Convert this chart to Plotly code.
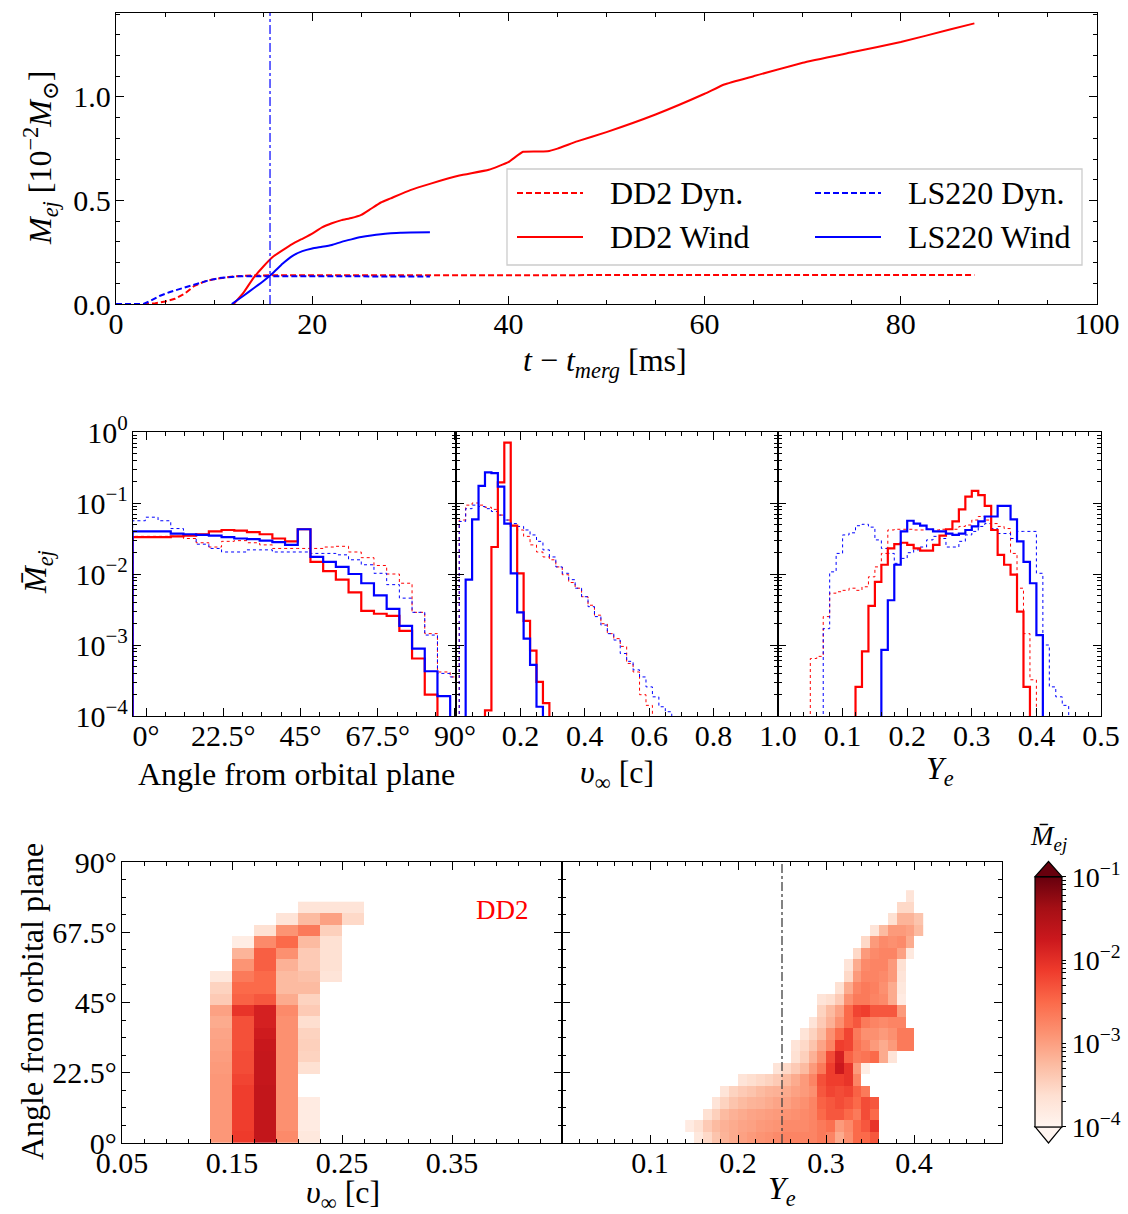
import numpy as np
import plotly.graph_objects as go

W, H = 1128, 1214
FONT = "Liberation Serif, Times New Roman, DejaVu Serif, serif"
RED = "#ff0000"
BLUE = "#0000ff"

# ---------------- top panel: ejecta mass vs time ----------------
DD2_DYN_T = [0, 3.0, 4.0, 5.0, 6.0, 7.0, 8.0, 9.0, 10.0, 11.0, 12.0, 13.0, 14.0, 20.0, 40.0, 87.5]
DD2_DYN_M = [0, 0, 0.004, 0.012, 0.025, 0.05, 0.088, 0.108, 0.12, 0.128, 0.133, 0.136, 0.138, 0.139, 0.139, 0.14]
LS220_DYN_T = [0, 2.8, 3.5, 4.5, 5.5, 6.5, 7.5, 8.5, 9.5, 10.5, 11.5, 12.5, 14.0, 32.0]
LS220_DYN_M = [0, 0, 0.015, 0.04, 0.058, 0.072, 0.088, 0.103, 0.115, 0.125, 0.131, 0.134, 0.134, 0.133]
DD2_WIND_T = [12.0, 13, 14, 15, 16, 17, 18, 19, 20, 21, 22, 23, 24, 25, 26, 27, 28,
              30, 32, 35, 38, 40, 41.5, 44, 45, 47, 50, 55, 60, 62, 65, 70, 75, 80, 85, 87.5]
DD2_WIND_M = [0.0, 0.055, 0.125, 0.18, 0.228, 0.26, 0.29, 0.315, 0.34, 0.37, 0.39, 0.405, 0.415, 0.43, 0.46, 0.49, 0.51,
              0.55, 0.58, 0.62, 0.648, 0.685, 0.735, 0.737, 0.75, 0.785, 0.83, 0.915, 1.015, 1.06, 1.10, 1.165, 1.215, 1.265, 1.325, 1.355]
LS220_WIND_T = [11.8, 13, 14, 15, 16, 17, 18, 19, 20, 21, 22, 23, 24, 25, 26, 27, 28, 29, 30, 32]
LS220_WIND_M = [0.0, 0.04, 0.075, 0.11, 0.15, 0.195, 0.232, 0.255, 0.268, 0.276, 0.285, 0.30, 0.312, 0.323, 0.331, 0.337, 0.341, 0.344, 0.345, 0.346]
MARK_T = 15.7

# ---------------- middle panels: normalised histograms (log10 of M_ej fraction) ----------------
ANGLE_HIST_EDGES = np.round(-3.9 + 3.7 * np.arange(27), 3)      # degrees
ANG_DD2_WIND = [-1.48, -1.48, -1.48, -1.47, -1.46, -1.44, -1.40, -1.38, -1.39, -1.41, -1.44, -1.50, -1.54,
                -1.37, -1.83, -1.96, -2.08, -2.26, -2.52, -2.56, -2.59, -2.80, -3.19, -3.70]
ANG_LS220_WIND = [-1.40, -1.40, -1.40, -1.43, -1.44, -1.45, -1.46, -1.48, -1.50, -1.51, -1.53, -1.55, -1.59,
                  -1.37, -1.76, -1.83, -1.90, -2.00, -2.13, -2.30, -2.49, -2.73, -3.05, -3.37, -3.72]
ANG_DD2_DYN = [-1.47, -1.47, -1.47, -1.47, -1.50, -1.56, -1.62, -1.54, -1.53, -1.56, -1.59, -1.64, -1.64,
               -1.64, -1.64, -1.62, -1.61, -1.69, -1.77, -1.88, -2.00, -2.13, -2.54, -2.84, -3.38, -3.45]
ANG_LS220_DYN = [-1.25, -1.20, -1.25, -1.36, -1.46, -1.58, -1.64, -1.69, -1.69, -1.66, -1.66, -1.69, -1.69,
                 -1.69, -1.71, -1.71, -1.73, -1.80, -1.87, -1.99, -2.15, -2.34, -2.54, -2.86, -3.40, -3.45]

V_HIST_EDGES = np.round(0.01 + 0.02 * np.arange(51), 3)
V_DD2_WIND_START, V_DD2_WIND = 4, [-3.92, -1.62, -0.71, -0.15, -1.32, -1.99, -2.66, -3.08, -3.52, -3.82]
V_LS220_WIND_START, V_LS220_WIND = 1, [-2.08, -1.23, -0.76, -0.57, -0.58, -0.77, -1.29, -1.99, -2.54, -2.91, -3.28, -3.87]
V_DD2_DYN = [-1.24, -1.03, -1.00, -1.03, -1.06, -1.09, -1.17, -1.24, -1.32, -1.38, -1.47, -1.59, -1.69, -1.76, -1.80,
             -1.90, -2.01, -2.12, -2.20, -2.32, -2.44, -2.58, -2.70, -2.84, -2.91, -3.02, -3.26, -3.38, -3.70, -3.85]
V_LS220_DYN = [-1.26, -1.08, -1.03, -1.05, -1.08, -1.12, -1.17, -1.24, -1.29, -1.33, -1.38, -1.45, -1.54, -1.66, -1.76,
               -1.90, -1.99, -2.08, -2.20, -2.32, -2.46, -2.60, -2.72, -2.84, -2.93, -3.12, -3.23, -3.35, -3.45, -3.59,
               -3.73, -3.87, -3.94]

YE_HIST_EDGES = np.round(0.01 * np.arange(51), 3)
YE_DD2_WIND_START, YE_DD2_WIND = 12, [-3.59, -3.09, -2.45, -2.11, -1.87, -1.64, -1.58, -1.56, -1.59, -1.64, -1.67, -1.67,
                                      -1.59, -1.46, -1.37, -1.26, -1.09, -0.91, -0.83, -0.89, -1.04, -1.38, -1.73, -1.87,
                                      -2.01, -2.53, -3.59]
YE_LS220_WIND_START, YE_LS220_WIND = 16, [-3.07, -2.37, -1.87, -1.40, -1.25, -1.29, -1.32, -1.37, -1.40, -1.40, -1.43,
                                          -1.45, -1.43, -1.38, -1.33, -1.26, -1.19, -1.19, -1.04, -1.04, -1.23, -1.54,
                                          -1.83, -2.13, -2.86]
YE_DD2_DYN_START, YE_DD2_DYN = 5, [-3.19, -3.16, -2.60, -2.27, -2.25, -2.23, -2.20, -2.23, -2.18, -2.04, -1.90, -1.71,
                                   -1.38, -1.37, -1.37, -1.37, -1.38, -1.38, -1.37, -1.38, -1.37, -1.37, -1.37, -1.33,
                                   -1.31, -1.24, -1.19, -1.24, -1.29, -1.33, -1.36, -1.71, -2.20, -2.84, -3.49]
YE_LS220_DYN_START, YE_LS220_DYN = 7, [-2.77, -1.97, -1.71, -1.45, -1.42, -1.32, -1.30, -1.34, -1.52, -1.64, -1.71, -1.85,
                                       -1.78, -1.70, -1.66, -1.62, -1.52, -1.47, -1.50, -1.62, -1.62, -1.54, -1.45, -1.40,
                                       -1.33, -1.29, -1.36, -1.43, -1.43, -1.50, -1.40, -1.40, -1.40, -1.99, -3.00, -3.59,
                                       -3.73, -3.85]

# ---------------- bottom panels: 2D histograms, DD2 (log10 M_ej) ----------------
N = np.nan
ANGLE_ROW_EDGES = np.round(3.68 * np.arange(23), 3)           # degrees
VINF_COL_EDGES = [0.13, 0.15, 0.17, 0.19, 0.21, 0.23, 0.25, 0.27]
VINF_ANGLE_LOGM = [
    [-2.92, -2.11, -1.66, -2.80, -3.76, N, N],
    [-2.92, -2.14, -1.66, -2.86, -3.82, N, N],
    [-2.92, -2.14, -1.66, -2.86, -3.82, N, N],
    [-2.92, -2.14, -1.66, -2.86, -3.82, N, N],
    [-2.92, -2.14, -1.66, -2.86, N, N, N],
    [-2.92, -2.20, -1.69, -2.86, N, N, N],
    [-2.95, -2.26, -1.69, -2.86, -3.64, N, N],
    [-2.98, -2.26, -1.69, -2.86, -3.49, N, N],
    [-3.01, -2.29, -1.72, -2.86, -3.46, N, N],
    [-3.04, -2.29, -1.78, -2.86, -3.49, N, N],
    [-3.10, -2.29, -1.84, -2.86, -3.61, N, N],
    [-3.01, -2.05, -1.84, -2.80, -3.40, N, N],
    [-3.40, -2.44, -2.35, -3.10, -3.49, N, N],
    [-3.49, -2.50, -2.50, -3.25, -3.25, N, N],
    [-3.76, -2.65, -2.50, -3.25, -3.31, -3.70, N],
    [N, -2.89, -2.41, -3.16, -3.40, -3.64, N],
    [N, -3.19, -2.41, -2.86, -3.40, -3.64, N],
    [N, -3.85, -2.80, -2.50, -3.25, -3.64, N],
    [N, N, -3.64, -2.89, -2.65, -3.46, N],
    [N, N, N, -3.70, -3.25, -3.01, -3.55],
    [N, N, N, N, -3.70, -3.70, -3.70],
]
YE_COL_EDGES = np.round(0.14 + 0.01 * np.arange(28), 3)
YE_ROW_START = [1, 0, 2, 3, 4, 6, 10, 12, 12, 13, 14, 15, 15, 17, 18, 18, 19, 20, 21, 23, 24, 25]
YE_ROW_LOGM = [
    [-3.76, -3.55, -3.34, -3.19, -3.10, -3.01, -2.95, -2.89, -2.86, -2.80, -2.74, -2.74, -2.74, -2.74, -2.65, -2.74, -3.10, -2.86, -2.50, -2.50, -2.35],
    [-3.82, -3.64, -3.40, -3.25, -3.16, -3.10, -3.04, -3.01, -2.95, -2.92, -2.89, -2.80, -2.80, -2.80, -2.74, -2.65, -2.56, -2.95, -2.80, -2.50, -2.35, -2.05],
    [-3.64, -3.46, -3.25, -3.16, -3.10, -3.04, -3.01, -2.98, -2.95, -2.89, -2.86, -2.80, -2.74, -2.50, -2.35, -2.35, -2.50, -2.65, -2.26, -2.50],
    [-3.70, -3.49, -3.34, -3.25, -3.19, -3.16, -3.10, -3.04, -3.01, -2.92, -2.86, -2.74, -2.44, -2.35, -2.26, -2.35, -2.50, -2.26, -2.35],
    [-3.70, -3.49, -3.40, -3.34, -3.25, -3.19, -3.16, -3.10, -3.01, -2.95, -2.86, -2.35, -2.20, -2.26, -2.20, -2.44, -2.65],
    [-3.70, -3.61, -3.55, -3.49, -3.40, -3.25, -3.10, -2.95, -2.74, -2.29, -2.14, -2.14, -2.05, -2.74],
    [-3.70, -3.55, -3.40, -3.25, -2.95, -2.65, -2.14, -1.75, -2.05, -2.95, -3.85],
    [-3.64, -3.46, -3.16, -2.86, -2.26, -1.84, -2.44, -2.65, -2.59, -2.50, -3.10, -3.70],
    [-3.70, -3.55, -3.34, -3.04, -2.74, -2.14, -2.20, -2.59, -2.74, -2.95, -3.10, -2.95, -2.65, -2.65],
    [-3.70, -3.49, -3.25, -2.86, -2.50, -2.20, -2.65, -2.86, -2.86, -2.95, -2.86, -2.65, -2.65],
    [-3.70, -3.40, -3.16, -2.86, -2.50, -2.35, -2.65, -2.74, -2.80, -2.74, -2.74],
    [-3.49, -3.25, -3.01, -2.50, -2.20, -2.14, -2.35, -2.35, -2.35, -2.95],
    [-3.70, -3.61, -3.40, -2.86, -2.65, -2.65, -2.74, -2.80, -3.10, -3.82],
    [-3.64, -3.10, -2.74, -2.65, -2.71, -2.86, -3.10, -3.76],
    [-3.55, -2.95, -2.74, -2.74, -2.80, -2.95, -3.70],
    [-3.70, -3.10, -2.80, -2.74, -2.74, -2.95, -3.64],
    [-3.55, -2.95, -2.80, -2.74, -2.74, -3.01, -3.79],
    [-3.55, -2.95, -2.80, -2.86, -2.80, -3.10],
    [-3.70, -3.25, -2.95, -2.95, -3.01, -3.25],
    [-3.64, -3.19, -3.19, -3.34],
    [-3.55, -3.55],
    [-3.70],
]
YE_MARK = 0.25

REDS = [[0.0, "#fff5f0"], [0.125, "#fee0d2"], [0.25, "#fcbba1"], [0.375, "#fc9272"], [0.5, "#fb6a4a"],
        [0.625, "#ef3b2c"], [0.75, "#cb181d"], [0.875, "#a50f15"], [1.0, "#67000d"]]

FLOOR = 1e-6


def px(x):
    return x / W


def py(y):
    return 1 - y / H


def step_trace(edges, start, logvals, xa, ya, color, width, dash):
    n = len(logvals)
    e = list(edges[start:start + n + 1])
    vals = [10 ** v for v in logvals]
    xs = [e[0]] + e[:n] + [e[n], e[n]]
    ys = [FLOOR] + vals + [vals[-1], FLOOR]
    return go.Scatter(x=xs, y=ys, mode="lines", line=dict(color=color, width=width, dash=dash, shape="hv"),
                      xaxis=xa, yaxis=ya, showlegend=False, hoverinfo="skip")


fig = go.Figure()

# top panel lines
DASH = "6px,3px"
fig.add_trace(go.Scatter(x=DD2_DYN_T, y=DD2_DYN_M, mode="lines", line=dict(color=RED, width=2, dash=DASH),
                         xaxis="x", yaxis="y", showlegend=False))
fig.add_trace(go.Scatter(x=LS220_DYN_T, y=LS220_DYN_M, mode="lines", line=dict(color=BLUE, width=2, dash=DASH),
                         xaxis="x", yaxis="y", showlegend=False))
fig.add_trace(go.Scatter(x=DD2_WIND_T, y=DD2_WIND_M, mode="lines", line=dict(color=RED, width=2, shape="spline",
                                                                            smoothing=0.35),
                         xaxis="x", yaxis="y", showlegend=False))
fig.add_trace(go.Scatter(x=LS220_WIND_T, y=LS220_WIND_M, mode="lines", line=dict(color=BLUE, width=2, shape="spline",
                                                                                smoothing=0.5),
                         xaxis="x", yaxis="y", showlegend=False))

# middle panel histograms
for xa, ya, edges, series in [
    ("x2", "y2", ANGLE_HIST_EDGES, [(0, ANG_DD2_DYN, RED, "dyn"), (0, ANG_LS220_DYN, BLUE, "dyn"),
                                    (0, ANG_DD2_WIND, RED, "wind"), (0, ANG_LS220_WIND, BLUE, "wind")]),
    ("x3", "y3", V_HIST_EDGES, [(0, V_DD2_DYN, RED, "dyn"), (0, V_LS220_DYN, BLUE, "dyn"),
                                (V_DD2_WIND_START, V_DD2_WIND, RED, "wind"),
                                (V_LS220_WIND_START, V_LS220_WIND, BLUE, "wind")]),
    ("x4", "y4", YE_HIST_EDGES, [(YE_DD2_DYN_START, YE_DD2_DYN, RED, "dyn"),
                                 (YE_LS220_DYN_START, YE_LS220_DYN, BLUE, "dyn"),
                                 (YE_DD2_WIND_START, YE_DD2_WIND, RED, "wind"),
                                 (YE_LS220_WIND_START, YE_LS220_WIND, BLUE, "wind")]),
]:
    for start, vals, col, kind in series:
        if kind == "dyn":
            fig.add_trace(step_trace(edges, start, vals, xa, ya, col, 1.0, "dot"))
        else:
            fig.add_trace(step_trace(edges, start, vals, xa, ya, col, 2.2, "solid"))

# bottom heatmaps
n_rows_l = len(VINF_ANGLE_LOGM)
fig.add_trace(go.Heatmap(x=VINF_COL_EDGES, y=list(ANGLE_ROW_EDGES[:n_rows_l + 1]), z=VINF_ANGLE_LOGM,
                         coloraxis="coloraxis", xaxis="x5", yaxis="y5", hoverongaps=False))
n_cols_r = len(YE_COL_EDGES) - 1
z_r = np.full((len(YE_ROW_LOGM), n_cols_r), np.nan)
for r, (s, vals) in enumerate(zip(YE_ROW_START, YE_ROW_LOGM)):
    z_r[r, s:s + len(vals)] = vals
fig.add_trace(go.Heatmap(x=list(YE_COL_EDGES), y=list(ANGLE_ROW_EDGES[:len(YE_ROW_LOGM) + 1]), z=z_r,
                         coloraxis="coloraxis", xaxis="x6", yaxis="y6", hoverongaps=False))

TICKFONT = dict(family=FONT, size=30, color="black")


def axis(domain, anchor, rng, tickvals=None, ticktext=None, minor=None, labels=True, typ="linear", standoff=-7):
    d = dict(domain=domain, anchor=anchor, range=rng, type=typ, showline=True, linecolor="black", linewidth=1.3,
             mirror="allticks", ticks="inside", ticklen=8, tickwidth=1.2, tickcolor="black", showgrid=False,
             zeroline=False, tickfont=TICKFONT, showticklabels=labels, ticklabelstandoff=standoff, automargin=False)
    if tickvals is not None:
        d["tickmode"] = "array"
        d["tickvals"] = tickvals
        d["ticktext"] = ticktext if ticktext is not None else [str(v) for v in tickvals]
    if minor is not None:
        m = dict(ticks="inside", ticklen=4, tickwidth=1, tickcolor="black", showgrid=False)
        m.update(minor)
        d["minor"] = m
    return d


DEG = ["0°", "22.5°", "45°", "67.5°", "90°"]
DEGV = [0, 22.5, 45, 67.5, 90]
LOGV = [1, 0.1, 0.01, 0.001, 0.0001]
LOGT = ["10<sup>0</sup>", "10<sup>−1</sup>", "10<sup>−2</sup>", "10<sup>−3</sup>", "10<sup>−4</sup>"]
LOGMINOR = [k * 10.0 ** d for d in range(-4, 0) for k in range(2, 10)]

mid_y = [py(716), py(432)]
bot_y = [py(1143), py(862)]
YS = -2
fig.update_layout(
    xaxis=axis([px(116), px(1097)], "y", [0, 100], [0, 20, 40, 60, 80, 100],
               minor=dict(tickmode="linear", tick0=0, dtick=5)),
    yaxis=axis([py(304), py(13)], "x", [0, 1.405], [0, 0.5, 1.0], ["0.0", "0.5", "1.0"],
               minor=dict(tickmode="linear", tick0=0, dtick=0.1), standoff=YS),
    xaxis2=axis([px(133), px(456)], "y2", [-3.8, 90.3], DEGV, DEG,
                minor=dict(tickmode="linear", tick0=0, dtick=5.625)),
    yaxis2=axis(mid_y, "x2", [-4, 0], LOGV, LOGT, minor=dict(tickmode="array", tickvals=LOGMINOR), typ="log",
                standoff=YS),
    xaxis3=axis([px(456), px(778)], "y3", [0, 1], [0.2, 0.4, 0.6, 0.8, 1.0], ["0.2", "0.4", "0.6", "0.8", "1.0"],
                minor=dict(tickmode="linear", tick0=0, dtick=0.05)),
    yaxis3=axis(mid_y, "x3", [-4, 0], LOGV, LOGT, minor=dict(tickmode="array", tickvals=LOGMINOR), labels=False,
                typ="log"),
    xaxis4=axis([px(778), px(1101)], "y4", [0, 0.5], [0.1, 0.2, 0.3, 0.4, 0.5], ["0.1", "0.2", "0.3", "0.4", "0.5"],
                minor=dict(tickmode="linear", tick0=0, dtick=0.02)),
    yaxis4=axis(mid_y, "x4", [-4, 0], LOGV, LOGT, minor=dict(tickmode="array", tickvals=LOGMINOR), labels=False,
                typ="log"),
    xaxis5=axis([px(122), px(562)], "y5", [0.05, 0.45], [0.05, 0.15, 0.25, 0.35], ["0.05", "0.15", "0.25", "0.35"],
                minor=dict(tickmode="linear", tick0=0.05, dtick=0.02)),
    yaxis5=axis(bot_y, "x5", [0, 90], DEGV, DEG, minor=dict(tickmode="linear", tick0=0, dtick=5.625), standoff=YS),
    xaxis6=axis([px(562), px(1002)], "y6", [0, 0.5], [0.1, 0.2, 0.3, 0.4], ["0.1", "0.2", "0.3", "0.4"],
                minor=dict(tickmode="linear", tick0=0, dtick=0.02)),
    yaxis6=axis(bot_y, "x6", [0, 90], DEGV, DEG, minor=dict(tickmode="linear", tick0=0, dtick=5.625), labels=False),
)

CB_MAJOR = [-4, -3, -2, -1]
CB_MINOR = [float(np.log10(k * 10.0 ** d)) for d in range(-4, -1) for k in range(2, 10)]
fig.update_layout(
    coloraxis=dict(colorscale=REDS, cmin=-4, cmax=-1,
                   colorbar=dict(x=px(1035), xanchor="left", y=py(1001.7), yanchor="middle", len=250,
                                 lenmode="pixels", thickness=27, thicknessmode="pixels", xpad=0, ypad=0,
                                 outlinewidth=1.2, outlinecolor="black",
                                 tickmode="array", tickvals=CB_MAJOR + CB_MINOR,
                                 ticktext=["10<sup>−4</sup>", "10<sup>−3</sup>", "10<sup>−2</sup>", "10<sup>−1</sup>"]
                                 + [""] * len(CB_MINOR),
                                 ticks="outside", ticklen=4, tickwidth=1, tickcolor="black",
                                 tickfont=dict(family=FONT, size=28, color="black"))),
)

shapes = []
# vertical marker lines
shapes.append(dict(type="line", xref="x", yref="y domain", x0=MARK_T, x1=MARK_T, y0=0, y1=1,
                   line=dict(color=BLUE, width=1.2, dash="dashdot")))
shapes.append(dict(type="line", xref="x6", yref="y6 domain", x0=YE_MARK, x1=YE_MARK, y0=0, y1=1,
                   line=dict(color="#404040", width=1.3, dash="dashdot")))
# colorbar extension triangles
shapes.append(dict(type="path", xref="paper", yref="paper",
                   path=f"M {px(1035)},{py(876.7)} L {px(1048.5)},{py(861.5)} L {px(1062)},{py(876.7)} Z",
                   fillcolor="#67000d", line=dict(color="black", width=1.2)))
shapes.append(dict(type="path", xref="paper", yref="paper",
                   path=f"M {px(1035)},{py(1126.7)} L {px(1048.5)},{py(1143)} L {px(1062)},{py(1126.7)} Z",
                   fillcolor="#fff5f0", line=dict(color="black", width=1.2)))
# legend box and keys
shapes.append(dict(type="rect", xref="paper", yref="paper", x0=px(507), x1=px(1082), y0=py(265), y1=py(169),
                   fillcolor="rgba(255,255,255,0.8)", line=dict(color="#cccccc", width=1.3), layer="above"))
LEG = [("DD2 Dyn.", RED, DASH, 517, 193), ("DD2 Wind", RED, "solid", 517, 237),
       ("LS220 Dyn.", BLUE, DASH, 815, 193), ("LS220 Wind", BLUE, "solid", 815, 237)]
annotations = []
for label_text, col, dash, x0, y0 in LEG:
    shapes.append(dict(type="line", xref="paper", yref="paper", x0=px(x0), x1=px(x0 + 66), y0=py(y0), y1=py(y0),
                       line=dict(color=col, width=2, dash=dash), layer="above"))
    annotations.append(dict(x=px(x0 + 91), y=py(y0), xref="paper", yref="paper", text=label_text, showarrow=False,
                            xanchor="left", yanchor="middle", font=dict(family=FONT, size=32, color="black")))


def label(text, x, y, angle=0, size=32, color="black"):
    annotations.append(dict(x=px(x), y=py(y), xref="paper", yref="paper", text=text, showarrow=False,
                            xanchor="center", yanchor="middle", textangle=angle,
                            font=dict(family=FONT, size=size, color=color)))


label("<i>t</i> − <i>t</i><sub><i>merg</i></sub> [ms]", 605, 362)
label("<i>M</i><sub><i>ej</i></sub> [10<sup>−2</sup><i>M</i><sub>⊙</sub>]", 40, 158, angle=-90)
label("<i>M\u0304</i><sub><i>ej</i></sub>", 38, 572, angle=-90)
label("Angle from orbital plane", 296, 774)
label("<i>υ</i><sub>∞</sub> [c]", 617, 774)
label("<i>Y</i><sub><i>e</i></sub>", 940, 770)
label("Angle from orbital plane", 32, 1002, angle=-90)
label("<i>υ</i><sub>∞</sub> [c]", 343, 1194)
label("<i>Y</i><sub><i>e</i></sub>", 782, 1190)
label("<i>M\u0304</i><sub><i>ej</i></sub>", 1048, 838, size=27)
label("DD2", 502, 910, size=27, color=RED)

fig.update_layout(shapes=shapes, annotations=annotations, width=W, height=H,
                  margin=dict(l=0, r=0, t=0, b=0, autoexpand=False), paper_bgcolor="white", plot_bgcolor="white",
                  font=dict(family=FONT, size=28, color="black"), showlegend=False)

fig.write_html("out.html", config={"displayModeBar": False},
               post_script="document.body.style.margin='0px';document.body.style.overflow='hidden';")
